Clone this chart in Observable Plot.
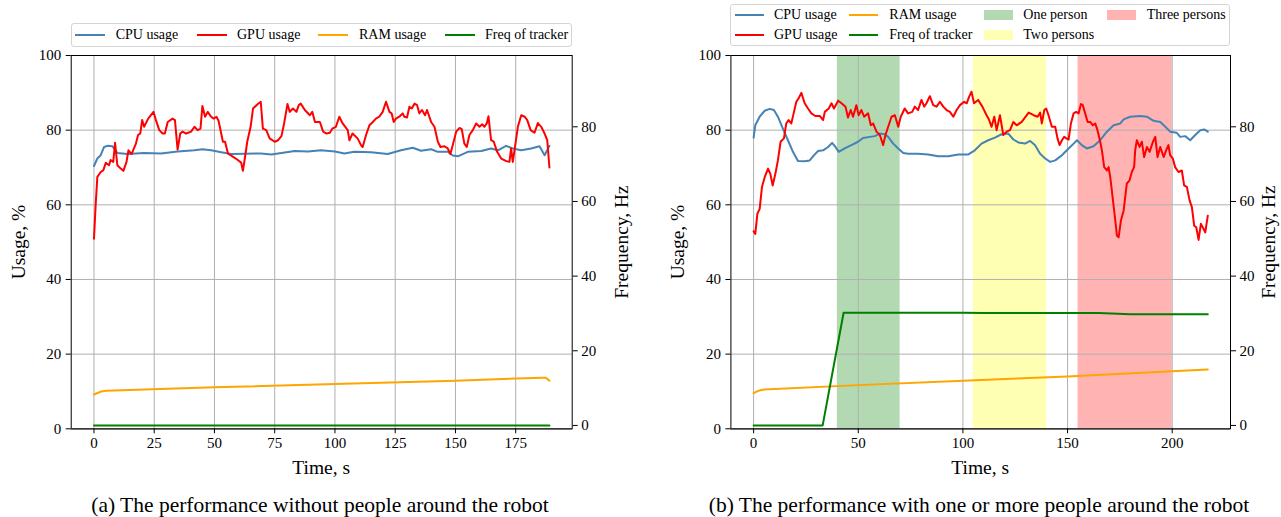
<!DOCTYPE html>
<html><head><meta charset="utf-8">
<script src="https://cdn.jsdelivr.net/npm/d3@7"></script>
<script src="https://cdn.jsdelivr.net/npm/@observablehq/plot@0.6"></script>
<style>
body{margin:0;background:#fff;font-family:"Liberation Serif","Times New Roman",serif;color:#000;}
#root{position:relative;width:1281px;height:517px;overflow:hidden;background:#fff;}
.t{position:absolute;white-space:nowrap;line-height:1;}
.box{position:absolute;border:1px solid #d4d4d4;border-radius:3px;background:#fff;box-sizing:border-box;}
.sw{position:absolute;}
.plot{position:absolute;top:47px;}
svg text, svg g[aria-label] {font-family:"Liberation Serif","Times New Roman",serif !important;}
</style></head><body><div id="root"></div>
<script>
// ---------- data (time s, value) ----------
const xTicksA = [0,25,50,75,100,125,150,175];
const xTicksB = [0,50,100,150,200];
const usageTicks = [0,20,40,60,80,100];
const freqTicks = [0,20,40,60,80];
const freqOffset = 0.9; // right (Hz) axis sits 0.9 units below the usage axis

const cpuA = [[0,70.4],[1.4,72.4],[2.8,73.3],[4.2,75.5],[5.6,75.8],[7.6,75.7],[8.3,75.1],[9.7,73.9],[13.9,73.6],[20.8,73.9],[27.8,73.75],[34.7,74.3],[41.7,74.6],[45,74.9],[48.6,74.6],[52.8,74.1],[57,73.6],[62.5,73.7],[69.4,73.75],[73.6,73.5],[77.8,73.9],[83.3,74.4],[88.9,74.3],[94.2,74.6],[100,74.3],[103.9,73.75],[108,74.2],[115,74.1],[121.9,73.6],[127.4,74.6],[132.3,75.3],[135.7,74.5],[139.9,74.9],[142.7,74.2],[146.8,74.2],[148.9,73.2],[151,73],[155.1,74.2],[160.7,74.4],[164.8,75.1],[167.6,74.6],[171,75.8],[173.8,75.1],[177.3,74.6],[181.4,75.1],[184.9,75.7],[187,73.3],[189,75.8]];
const gpuA = [[0,50.9],[0.7,60],[1.4,67.5],[2.8,68.8],[3.9,69.3],[4.9,71.25],[6.25,70.6],[6.9,72],[8,71.5],[8.75,76.6],[9.7,70.6],[11.1,69.7],[12.2,69.1],[13.5,71.5],[14.3,74.6],[15.6,73.6],[17.4,76.4],[18.3,78.7],[19.2,79.1],[20,82.7],[20.8,80.9],[22.5,83.1],[24.7,84.9],[25.7,82.7],[27.1,80],[28.5,79.1],[29.4,79.1],[30.6,82.2],[32.6,83.1],[33.6,82.7],[34.7,74.8],[35.8,79.1],[36.8,79.6],[38.2,79.1],[40.3,79.6],[41.7,80.9],[43,80],[44.2,80.4],[45,86.5],[46.1,83.6],[47.2,84.9],[48.6,83.6],[49.7,83.1],[50.8,83.6],[51.7,82.5],[52.8,79.1],[53.5,76.9],[54.4,76.9],[55.6,73.75],[57.6,72.9],[59.7,72],[61.1,71.25],[61.8,69.1],[62.5,72],[63.6,76.9],[65,80.9],[66,85.8],[68,87],[69.2,87.6],[70.1,80.4],[71.5,80],[72.9,77.8],[75,76.9],[76.4,77.3],[77.8,78.4],[78.9,81.8],[80.3,87],[81.25,84.9],[82.6,85.8],[84,84.9],[85,86.7],[85.8,87.1],[87.5,85.4],[89.6,84],[90.6,84.9],[91.7,82.2],[93.75,82.2],[95.1,79.6],[96.5,79.1],[97.9,79.3],[98.9,80.4],[100.4,80.9],[101.8,83.6],[103.2,81.8],[105.3,80],[106,77.3],[107.3,79.1],[109.4,77.8],[110.8,76],[111.5,75.5],[112.9,78.7],[114.3,81.3],[115.7,82.2],[117,83.1],[118.4,83.6],[119.8,84.9],[121.2,87.6],[122.6,84.9],[123.5,84.5],[124.4,82.2],[125.3,83.1],[126.7,83.6],[128.1,84.5],[128.8,83.6],[129.9,83.4],[130.9,86.25],[131.9,85.8],[133,87.1],[134.1,86.7],[135,84.5],[136.1,85.4],[137.4,84],[138.2,85.4],[139.9,82.2],[141.3,80.9],[142.7,76.9],[143.8,75.5],[145.4,75.7],[146.8,75.1],[147.9,73.6],[148.9,76],[150.3,79.6],[151.7,80.6],[152.6,80.3],[153.7,76.4],[154.7,75.5],[155.8,78.7],[157.2,80],[158.6,81.8],[160,80.9],[161.1,81.6],[162,80.9],[163,81.8],[163.7,83.75],[164.8,77.3],[165.9,76.9],[167.3,74.2],[169,72.4],[171.1,71.7],[172.4,71.5],[173.1,75.1],[173.8,71.5],[174.5,74.6],[175.9,80.9],[177.3,84],[178.7,83.6],[179.8,82.7],[181.2,80],[182.8,79.3],[184.2,81.9],[185.6,80.9],[187,79.1],[188.1,77.3],[189,70]];
const ramA = [[0,9.2],[1.5,9.6],[3,10],[5,10.2],[50,11.1],[100,12],[150,12.9],[186,13.7],[187.5,13.7],[189,12.9]];
const freqA = [[0,0],[189,0]];

const cpuB = [[0,78],[0.8,81.3],[2.9,83.6],[5.3,85.2],[7.7,85.7],[9.7,85.4],[11.6,83.6],[14,80.4],[16.4,77.3],[18.8,74.2],[21.2,71.75],[24.4,71.7],[26.8,71.9],[28.9,73.3],[30.8,74.4],[33.2,74.6],[35.6,75.5],[37.5,76.6],[39.1,75.5],[40.7,74.2],[43.5,75.1],[46.7,76],[49.9,76.9],[52.3,77.9],[55.5,78.2],[57.9,78.4],[60.3,79.1],[62.7,78.9],[64.3,78.2],[66.7,76.4],[69.1,75.1],[71.5,73.9],[73.8,73.7],[78.6,73.7],[83.4,73.5],[88.2,73],[93,73],[97.8,73.5],[102.6,73.5],[105.7,74.6],[108.9,76.4],[112.1,77.3],[115.3,78],[118.5,78.9],[121.7,79.1],[124.1,77.5],[126.5,76.7],[129.7,76.4],[132.1,77.1],[134.4,76],[136.9,73.7],[139.3,72.4],[141.7,71.5],[144.1,71.9],[147.3,73.3],[150.5,75.1],[152.9,76.4],[154.5,77.3],[156.8,76],[159.2,75.1],[162.4,75.7],[165.6,77.3],[168.8,79.6],[172,81.3],[175.2,81.8],[176.8,82.9],[179.9,83.6],[184.7,83.8],[187.9,83.6],[191.1,82.5],[194.3,82.2],[196.7,80.9],[199,79.6],[202.2,79.3],[203.8,78.2],[206.2,78.4],[208.6,77.3],[211,78.7],[213.4,80],[215.3,80.2],[217,79.6]];
const gpuB = [[0,52.9],[0.8,52.2],[1.8,57.6],[2.9,58.9],[4,64.8],[5.3,67.4],[6.9,69.7],[8,68.3],[9.1,65.2],[10.4,68.3],[11.6,71.9],[12.9,76.9],[14.5,77.8],[15.6,81.8],[16.7,82.7],[18,81.8],[19.3,84.9],[20.4,87.6],[21.5,88.5],[22.8,90],[24.4,87.2],[26,85.8],[27.6,84.5],[29.5,83.8],[31.6,83.8],[33.2,82.7],[34,84.9],[35.9,85.8],[37.2,87.2],[38.4,85.8],[40.4,87.9],[42,87.2],[43.9,86.3],[45.1,83.4],[46.4,85.4],[47.5,83.6],[49.1,86.7],[50.2,84],[51.5,85.4],[52.8,83.6],[54.7,84.5],[56,81.3],[57.1,81.8],[58.7,79.6],[60.3,78.7],[61.9,76],[63,78.7],[64.3,80.9],[65.9,83.6],[67.5,84],[69.1,80.9],[70.3,83.6],[72.2,85.8],[73.8,84.5],[75.8,84.9],[77,86.3],[78.6,85.4],[80.2,88.1],[81.5,86.3],[82.6,87.2],[84.2,89.1],[85.8,86.7],[87.4,86.3],[89,87.6],[90.6,86.3],[92.2,85.4],[93.8,84.9],[95.4,83.6],[97,85.4],[98.6,86.7],[100.6,87.6],[101.8,87.2],[103,89],[104.1,90.3],[105.3,87.2],[107.3,88.1],[109.3,86.3],[111.3,84],[112.4,82.9],[113.7,80.9],[115,83.6],[116.1,80],[117.7,84],[119.3,78.7],[120.9,79.6],[122.5,80],[124.1,82.2],[125.7,81.3],[128.1,82.2],[129.7,83.4],[131.4,84.7],[133.8,84],[135.7,83.6],[136.9,84.7],[137.7,81.8],[138.9,85.4],[139.8,85.8],[140.9,84],[142.5,80.9],[144.1,80.9],[145.2,77.8],[146.2,76],[147.3,77.3],[148.4,78.2],[149.4,77.8],[150.5,77.5],[151.6,81.8],[152.9,84.5],[154.1,84.9],[155.3,84.5],[156.4,87],[157.3,86.7],[158.4,84.5],[159.6,82.2],[160.8,82.2],[162.1,81.3],[163.2,81.8],[164.3,80],[165.6,76.9],[166.4,74.6],[167.5,70.1],[168.8,69.2],[169.6,70.1],[170.4,67.4],[171.7,61.2],[172.8,55.8],[173.6,51.7],[174.4,51.3],[175.5,55.8],[176.8,58.5],[178.3,65.7],[179.6,66.5],[180.7,68.8],[181.8,70.1],[182.3,74.6],[183.1,77.3],[184.4,75.5],[185.5,76.9],[186.6,72.8],[187.9,75.5],[189.2,74.2],[190.8,76.9],[191.9,78.2],[193,72.8],[194.3,75.5],[195.9,72.8],[197.1,74.6],[198.2,76],[199,73.3],[200.3,72.4],[201.4,70.1],[203,68.8],[204.6,69.2],[205.7,65.2],[207,64.8],[208.3,61.2],[209.4,59.4],[210.5,54.4],[211.5,54],[212.6,50.6],[213.7,54.9],[215,53.5],[215.8,52.6],[217,57.1]];
const ramB = [[0,9.5],[1.5,10],[3,10.3],[5,10.5],[50,11.7],[100,12.9],[150,14],[200,15.4],[217,15.9]];
const freqB = [[0,0],[33,0],[43,30.2],[100,30.2],[110,30.1],[165,30.1],[180,29.8],[217,29.8]];

const spanStart = [40,105,155];
const spanEnd = [70,140,200];
const spanNames = ["One person","Two persons","Three persons"];
const spanColors = ["#b3d9b3","#ffffb3","#ffb3b3"];

const seriesNames = ["CPU usage","GPU usage","RAM usage","Freq of tracker"];
const seriesColors = ["#4682b4","#ff0000","#ffa500","#008000"];

// ---------- drawing ----------
const root = document.getElementById("root");
function txt(x, y, s, size, opts={}) {
  const d = document.createElement("div");
  d.className = "t";
  d.textContent = s;
  d.style.left = x + "px"; d.style.top = y + "px";
  d.style.fontSize = size + "px";
  const ax = opts.anchor === "middle" ? "-50%" : "0";
  d.style.transform = `translate(${ax},-50%)`;
  if (opts.rotate) d.style.transform = "translate(-50%,-50%) rotate(-90deg)";
  root.appendChild(d);
  return d;
}
function swatch(x, y, w, h, color) {
  const d = document.createElement("div");
  d.className = "sw";
  Object.assign(d.style, {left:x+"px", top:(y-h/2)+"px", width:w+"px", height:h+"px", background:color});
  root.appendChild(d);
}
function box(x1, y1, x2, y2) {
  const d = document.createElement("div");
  d.className = "box";
  Object.assign(d.style, {left:x1+"px", top:y1+"px", width:(x2-x1)+"px", height:(y2-y1)+"px"});
  root.appendChild(d);
}

const X = d => d[0], Y = d => d[1];
const FY = d => d[1] + freqOffset;

function panel({width, marginLeft, marginRight, xDomain, xTicks, spans, cpu, gpu, ram, freq}) {
  const marks = [];
  if (spans) marks.push(Plot.rect(spans, {x1:"a", x2:"b", y1:0, y2:100, fill:"c"}));
  marks.push(
    Plot.gridX(xTicks, {stroke:"#b0b0b0", strokeOpacity:1, strokeWidth:1}),
    Plot.gridY(usageTicks, {stroke:"#b0b0b0", strokeOpacity:1, strokeWidth:1}),
    Plot.line(cpu, {x:X, y:Y, stroke:seriesColors[0], strokeWidth:2}),
    Plot.line(gpu, {x:X, y:Y, stroke:seriesColors[1], strokeWidth:2}),
    Plot.line(ram, {x:X, y:Y, stroke:seriesColors[2], strokeWidth:2}),
    Plot.line(freq, {x:X, y:FY, stroke:seriesColors[3], strokeWidth:2}),
    Plot.frame({stroke:"#000", strokeWidth:1}),
    Plot.ruleY([0], {stroke:"#3a3a3a", strokeWidth:1.6}),
    Plot.axisX(xTicks, {anchor:"bottom", tickSize:5, tickPadding:4, label:null, fontFamily:"Liberation Serif"}),
    Plot.axisY(usageTicks, {anchor:"left", tickSize:5, tickPadding:5, label:null, fontFamily:"Liberation Serif"}),
    Plot.axisY(freqTicks.map(f => f + freqOffset), {anchor:"right", tickSize:5, tickPadding:4, label:null, fontFamily:"Liberation Serif", tickFormat: d => String(Math.round(d - freqOffset))})
  );
  return Plot.plot({
    width, height:440, marginTop:8, marginBottom:58.7, marginLeft, marginRight,
    style:{fontFamily:"Liberation Serif", fontSize:"15px", color:"#000", background:"transparent", overflow:"visible"},
    x:{domain:xDomain}, y:{domain:[0,100]},
    marks
  });
}

const pA = panel({width:640, marginLeft:70.7, marginRight:68.3, xDomain:[-9.45,198.45], xTicks:xTicksA, cpu:cpuA, gpu:gpuA, ram:ramA, freq:freqA});
pA.classList.add("plot"); pA.style.left = "0px"; root.appendChild(pA);

const spansB = spanStart.map((a,i) => ({a, b:spanEnd[i], c:spanColors[i]}));
const pB = panel({width:641, marginLeft:90.4, marginRight:51, xDomain:[-10.85,227.85], xTicks:xTicksB, spans:spansB, cpu:cpuB, gpu:gpuB, ram:ramB, freq:freqB});
pB.classList.add("plot"); pB.style.left = "640px"; root.appendChild(pB);

// axis titles
txt(18.5, 241.7, "Usage, %", 19.5, {rotate:true});
txt(622, 241.7, "Frequency, Hz", 19.5, {rotate:true});
txt(321.2, 468.3, "Time, s", 19.5, {anchor:"middle"});
txt(678, 241.7, "Usage, %", 19.5, {rotate:true});
txt(1269, 241.7, "Frequency, Hz", 19.5, {rotate:true});
txt(980.2, 468.3, "Time, s", 19.5, {anchor:"middle"});

// captions
txt(320, 506, "(a) The performance without people around the robot", 21.5, {anchor:"middle"});
txt(979, 506, "(b) The performance with one or more people around the robot", 21.5, {anchor:"middle"});

// legend A
box(70.5, 23, 572, 46.5);
const legAx = [[75,115.7],[197,237],[318,359],[445,485]];
seriesNames.forEach((n,i) => { swatch(legAx[i][0], 34.5, 30, 2, seriesColors[i]); txt(legAx[i][1], 34.5, n, 14); });

// legend B
box(730, 4, 1230, 46);
const legB = [
  {name:seriesNames[0], color:seriesColors[0], x:735, tx:774, y:15, kind:"line"},
  {name:seriesNames[1], color:seriesColors[1], x:735, tx:774, y:35, kind:"line"},
  {name:seriesNames[2], color:seriesColors[2], x:849, tx:889.3, y:15, kind:"line"},
  {name:seriesNames[3], color:seriesColors[3], x:849, tx:889.3, y:35, kind:"line"},
  {name:spanNames[0], color:spanColors[0], x:984, tx:1023.3, y:15, kind:"patch"},
  {name:spanNames[1], color:spanColors[1], x:984, tx:1023.3, y:35, kind:"patch"},
  {name:spanNames[2], color:spanColors[2], x:1106.7, tx:1146.7, y:15, kind:"patch"}
];
legB.forEach(e => {
  if (e.kind === "line") swatch(e.x, e.y, 29, 2, e.color);
  else swatch(e.x, e.y, 29, 10, e.color);
  txt(e.tx, e.y, e.name, 14);
});
</script></body></html>
